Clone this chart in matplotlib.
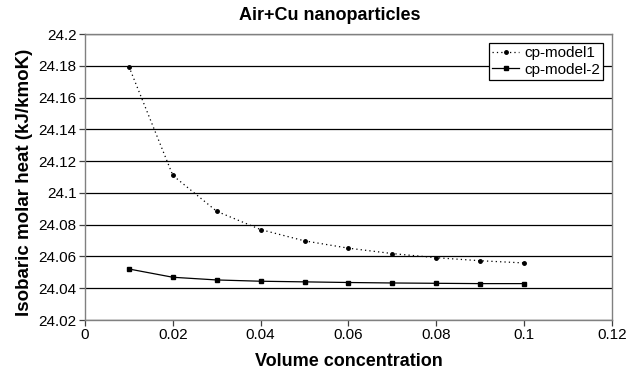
import matplotlib
matplotlib.use("Agg")
import matplotlib.pyplot as plt

plt.rcParams['font.family'] = ['Liberation Sans', 'DejaVu Sans']

x = [0.01, 0.02, 0.03, 0.04, 0.05, 0.06, 0.07, 0.08, 0.09, 0.10]
cp_model1 = [24.1795, 24.111, 24.0884, 24.0769, 24.0698, 24.0652, 24.0618, 24.0592, 24.0573, 24.0559]
cp_model2 = [24.0521, 24.0469, 24.0452, 24.0444, 24.0440, 24.0436, 24.0433, 24.0431, 24.0429, 24.0429]
yticks = [24.02, 24.04, 24.06, 24.08, 24.1, 24.12, 24.14, 24.16, 24.18, 24.2]
ytick_labels = ['24.02', '24.04', '24.06', '24.08', '24.1', '24.12', '24.14', '24.16', '24.18', '24.2']
xticks = [0, 0.02, 0.04, 0.06, 0.08, 0.1, 0.12]
xtick_labels = ['0', '0.02', '0.04', '0.06', '0.08', '0.1', '0.12']

W, H = 641, 377
fig = plt.figure(figsize=(W / 100, H / 100), dpi=100)
ax = fig.add_axes([85 / W, (H - 320) / H, 527 / W, 286 / H])

ax.plot(x, cp_model1, linestyle=(0, (1, 2.5)), color='black', linewidth=0.9,
        marker='o', markersize=2.5, label='cp-model1')
ax.plot(x, cp_model2, linestyle='-', color='black', linewidth=0.9,
        marker='s', markersize=2.8, label='cp-model-2')

ax.set_xlim(0, 0.12)
ax.set_ylim(24.02, 24.2)
ax.set_yticks(yticks)
ax.set_yticklabels(ytick_labels)
ax.set_xticks(xticks)
ax.set_xticklabels(xtick_labels)
ax.yaxis.grid(True, color='black', linewidth=0.9)
ax.set_axisbelow(True)
for s in ax.spines.values():
    s.set_color('#808080')
    s.set_linewidth(1.0)
ax.tick_params(axis='both', direction='out', length=4, width=0.9, color='#404040',
               labelsize=11, pad=2)

fig.text(330 / W, 1 - 16 / H, 'Air+Cu nanoparticles', fontsize=13, fontweight='bold',
         ha='center', va='center')
ax.set_xlabel('Volume concentration', fontsize=13, fontweight='bold')
ax.xaxis.set_label_coords(0.5, -(362 - 320) / 286)
ax.xaxis.label.set_va('center')
ax.set_ylabel('Isobaric molar heat (kJ/kmoK)', fontsize=13.5, fontweight='bold')
ax.yaxis.set_label_coords(-(85 - 24) / 527, 0.48)
ax.yaxis.label.set_va('center')

leg = ax.legend(loc='upper right', fontsize=11, frameon=True, fancybox=False,
                edgecolor='black', framealpha=1, handlelength=1.8, handletextpad=0.3,
                borderpad=0.2, labelspacing=0.15, borderaxespad=0.6)
leg.get_frame().set_linewidth(0.9)

fig.savefig('out.png', dpi=100)
